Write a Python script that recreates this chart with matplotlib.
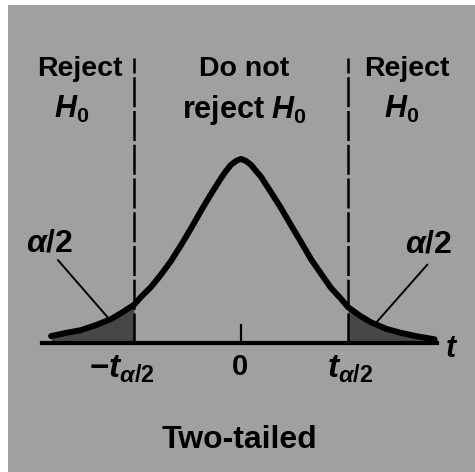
import numpy as np
import matplotlib.pyplot as plt

plt.rcParams['font.family'] = ['Liberation Sans', 'DejaVu Sans']
plt.rcParams['mathtext.fontset'] = 'custom'
plt.rcParams['mathtext.it'] = 'Liberation Sans:italic:bold'
plt.rcParams['mathtext.rm'] = 'Liberation Sans:bold'
plt.rcParams['mathtext.bf'] = 'Liberation Sans:bold'

# curve (t value, height of density)
t_curve = [-3.55, -3.27, -2.99, -2.71, -2.43, -2.24, -2.0, -1.87, -1.68, -1.50, -1.31,
           -1.12, -0.93, -0.75, -0.56, -0.37, -0.28, -0.19, -0.09, 0.0,
           0.09, 0.19, 0.28, 0.37, 0.56, 0.75, 0.93, 1.12, 1.31, 1.50, 1.68,
           1.87, 2.0, 2.24, 2.43, 2.71, 2.99, 3.27, 3.62]
dens = [0.015, 0.022, 0.028, 0.039, 0.052, 0.065, 0.083, 0.100, 0.122, 0.148, 0.178,
        0.213, 0.250, 0.287, 0.324, 0.359, 0.374, 0.387, 0.396, 0.400,
        0.396, 0.387, 0.374, 0.362, 0.328, 0.293, 0.257, 0.220, 0.182, 0.150, 0.120,
        0.096, 0.078, 0.058, 0.045, 0.031, 0.022, 0.015, 0.008]
t_crit = 2.0

top_labels = ['Reject', 'Do not', 'Reject']
second_labels = [r'$H_0$', r'reject $H_0$', r'$H_0$']
tick_labels = [r'$-t_{\alpha/2}$', '0', r'$t_{\alpha/2}$']

t = np.array(t_curve)
h = np.array(dens)

fig = plt.figure(figsize=(4.75, 4.72), dpi=100)
fig.patch.set_facecolor('white')
ax = fig.add_axes([8 / 475, 0, 467 / 475, 467 / 472])
ax.set_facecolor('#a0a0a0')
ax.set_xlim(-4.355, 4.374)
ax.set_ylim(-0.2804, 0.7348)
for s in ax.spines.values():
    s.set_visible(False)
ax.set_xticks([])
ax.set_yticks([])

# shaded tails
left = t <= -t_crit
right = t >= t_crit
ax.fill_between(t[left], 0, h[left], color='#474747', lw=0)
ax.fill_between(t[right], 0, h[right], color='#474747', lw=0)

# density curve
ax.plot(t, h, color='black', lw=4.3, solid_capstyle='round', solid_joinstyle='round')

# t axis and tick at 0
ax.plot([-3.72, 3.66], [0, 0], color='black', lw=3)
ax.plot([0, 0], [0, 0.04], color='black', lw=1.6)

# critical values
for c in (-t_crit, t_crit):
    ax.plot([c, c], [0, 0.62], color='black', lw=1.8, ls=(0, (12, 1.5)))

# region labels
for x, lab in zip([-3.01, 0.06, 3.10], top_labels):
    ax.text(x, 0.58, lab, ha='center', va='baseline', fontsize=20.5, fontweight='bold')
for x, lab in zip([-3.16, 0.07, 3.01], second_labels):
    ax.text(x, 0.49, lab, ha='center', va='baseline', fontsize=22, fontweight='bold')

# alpha/2 labels with leader lines
ax.text(-3.57, 0.198, r'$\alpha/2$', ha='center', va='baseline', fontsize=23)
ax.text(3.50, 0.196, r'$\alpha/2$', ha='center', va='baseline', fontsize=23)
ax.plot([-3.42, -2.50], [0.180, 0.057], color='black', lw=1.4)
ax.plot([3.48, 2.54], [0.170, 0.046], color='black', lw=1.4)

# tick labels
ax.text(-2.22, -0.074, tick_labels[0], ha='center', va='baseline', fontsize=24)
ax.text(-0.02, -0.070, tick_labels[1], ha='center', va='baseline', fontsize=21,
        fontweight='bold')
ax.text(2.04, -0.074, tick_labels[2], ha='center', va='baseline', fontsize=24)
ax.text(3.94, -0.030, r'$t$', ha='center', va='baseline', fontsize=22)

ax.text(-0.02, -0.228, 'Two-tailed', ha='center', va='baseline', fontsize=23,
        fontweight='bold')

fig.savefig('out.png', dpi=100, facecolor=fig.get_facecolor())
